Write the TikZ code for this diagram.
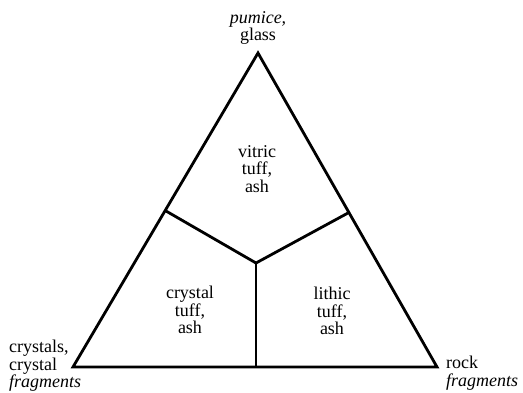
\documentclass[tikz,border=0pt]{standalone}
\usepackage{fontspec}
\setmainfont{Liberation Serif}
\begin{document}
\begin{tikzpicture}[x=1pt,y=-1pt,
  edge/.style={line width=2.8pt,line join=miter,line cap=butt},
  lbl/.style={font=\fontsize{18}{17.5}\selectfont,inner sep=0pt,align=center}]
\useasboundingbox (0,0) rectangle (523,392);
\coordinate (T) at (258,53);
\coordinate (L) at (73,367);
\coordinate (R) at (437,367);
\coordinate (ML) at (166,211);
\coordinate (MR) at (348,213);
\coordinate (C) at (256,263);
\coordinate (MB) at (256,367);
\draw[edge] (T) -- (R) -- (L) -- cycle;
\draw[edge] (ML) -- (C) -- (MR);
\draw[edge] (C) -- (MB);
\node[lbl] (top) at (258,28) {\textit{pumice,}\\glass};
\node[lbl] (vit) at (257,169) {vitric\\tuff,\\ash};
\node[lbl] (cry) at (190,310) {crystal\\tuff,\\ash};
\node[lbl] (lit) at (332,311) {lithic\\tuff,\\ash};
\node[lbl,anchor=west,align=left] (cl) at (9,366) {crystals,\\crystal\\\textit{fragments}};
\node[lbl,anchor=west,align=left] (rl) at (446,373) {rock\\\textit{fragments}};
\end{tikzpicture}
\end{document}
